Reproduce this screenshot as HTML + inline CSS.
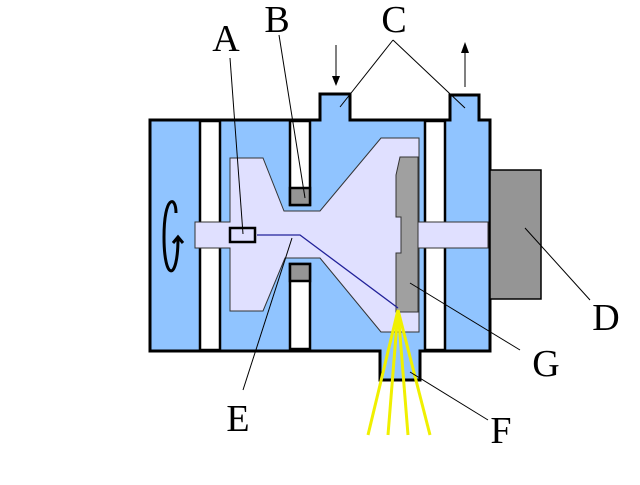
<!DOCTYPE html>
<html><head><style>body{margin:0;background:#fff}</style></head><body>
<svg width="640" height="480" xmlns="http://www.w3.org/2000/svg">
<rect width="640" height="480" fill="#fff"/>
<path d="M150,120 H320 V94 H350 V120 H450 V95 H479 V120 H490 V351 H420 V380 H380 V351 H150 Z" fill="#90c4ff" stroke="#000" stroke-width="3"/>
<rect x="490" y="170" width="51" height="129" fill="#959595" stroke="#000" stroke-width="1.5"/>
<g fill="#fff" stroke="#000" stroke-width="2.5">
<rect x="200" y="121" width="20" height="229"/>
<rect x="425" y="121" width="20" height="229"/>
<rect x="290" y="121" width="20" height="84"/>
<rect x="290" y="264" width="20" height="85"/>
</g>
<rect x="290" y="188" width="20" height="17" fill="#959595" stroke="#000" stroke-width="2.5"/>
<rect x="290" y="264" width="20" height="17" fill="#959595" stroke="#000" stroke-width="2.5"/>
<path d="M195,222 H230 V158 H263 L284,211 H320 L381,138 H419 V222 H488 V248 H419 V332 H381 L320,258 H285 L263,311 H230 V248 H195 Z" fill="#e0e0ff" stroke="#333" stroke-width="1"/>
<path d="M400,157 H418 V312 H396 V253 H401 V217 H396 V175 Z" fill="#a0a0a0" stroke="#333" stroke-width="1"/>
<rect x="230" y="228" width="25" height="14" fill="#e0e0ff" stroke="#000" stroke-width="2.5"/>
<path d="M257,235 H300 L398,308" fill="none" stroke="#22229a" stroke-width="1.3"/>
<g stroke="#f0f000" stroke-width="3">
<line x1="398" y1="310" x2="368" y2="435"/><line x1="398" y1="310" x2="388" y2="435"/>
<line x1="398" y1="310" x2="408" y2="435"/><line x1="398" y1="310" x2="430" y2="435"/>
</g>
<path d="M176,213 C176,195 164,195 164,237 C164,282 178,282 178,238" fill="none" stroke="#000" stroke-width="3"/>
<path d="M173,243 L178,237 L183,243" fill="none" stroke="#000" stroke-width="3"/>
<g stroke="#000" stroke-width="1" fill="none">
<line x1="230" y1="58" x2="243" y2="234"/>
<line x1="279" y1="35" x2="305" y2="198"/>
<line x1="393" y1="40" x2="340" y2="107"/>
<line x1="393" y1="40" x2="465" y2="108"/>
<line x1="590" y1="300" x2="525" y2="228"/>
<line x1="520" y1="350" x2="410" y2="283"/>
<line x1="488" y1="420" x2="410" y2="372"/>
<line x1="243" y1="390" x2="292" y2="238"/>
<line x1="336" y1="45" x2="336" y2="78"/>
<line x1="465" y1="52" x2="465" y2="87"/>
</g>
<path d="M332,76 L336,86 L340,76 Z" fill="#000"/>
<path d="M461,53 L465,42 L469,53 Z" fill="#000"/>
<g font-family="Liberation Serif, serif" font-size="38" fill="#000" text-anchor="middle">
<text x="226" y="51">A</text>
<text x="277" y="32">B</text>
<text x="394" y="32">C</text>
<text x="606" y="330">D</text>
<text x="238" y="431">E</text>
<text x="546" y="376">G</text>
<text x="501" y="443">F</text>
</g>
</svg>
</body></html>
